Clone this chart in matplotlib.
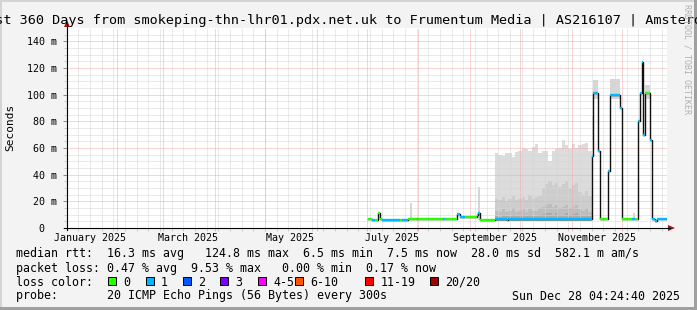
import matplotlib
matplotlib.use("Agg")
import matplotlib.pyplot as plt
import matplotlib.dates as mdates
from matplotlib.patches import Rectangle, Polygon
from matplotlib.lines import Line2D
import numpy as np
import pandas as pd

W, H = 697, 310
MONO = "DejaVu Sans Mono"

# ---- data ----
t_start = "2025-01-02 04:24:40"
t_end = "2025-12-28 04:24:40"

# median rtt steps: each value holds until the next date
med_dates = ["2025-07-02", "2025-07-04", "2025-07-06", "2025-07-08", "2025-07-09",
             "2025-07-10", "2025-07-21", "2025-07-22", "2025-07-26", "2025-07-31",
             "2025-08-01", "2025-08-16", "2025-08-17", "2025-08-24", "2025-08-26",
             "2025-08-29", "2025-09-05", "2025-09-06", "2025-09-07", "2025-09-16",
             "2025-09-23", "2025-09-24", "2025-11-13", "2025-11-14", "2025-11-17",
             "2025-11-18", "2025-11-23", "2025-11-24", "2025-11-30", "2025-12-01",
             "2025-12-07", "2025-12-09", "2025-12-11", "2025-12-12", "2025-12-13",
             "2025-12-14", "2025-12-15", "2025-12-18", "2025-12-19", "2025-12-21",
             "2025-12-22"]
med_end = "2025-12-28"
med_ms = [6.5, 6.0, 6.2, 11.0, 6.5,
          6.0, 6.0, 6.0, 7.0, 7.0,
          7.0, 7.0, 7.0, 10.3, 8.0,
          8.0, 9.5, 11.0, 6.0, 7.0,
          6.0, 7.0, 54, 101, 58,
          7.0, 43, 100, 90, 7.0,
          7.0, 7.0, 80, 101, 124.5,
          70, 101, 66, 7.0, 5.5,
          7.0]
# loss bucket per step (0 = no loss, 1 = 1/20 ...)
med_loss = [0, 1, 0, 0, 0,
            1, 0, 1, 0, 1,
            0, 1, 0, 1, 1,
            0, 0, 1, 0, 1,
            1, 1, 1, 1, 1,
            0, 1, 1, 1, 0,
            1, 0, 1, 1, 1,
            1, 0, 1, 1, 1,
            1]

# smoke (ping spread) sep-nov, one value per 2 days, in ms
smoke_start = "2025-09-16"
smoke_end = "2025-11-13"
smoke_base = 5.5
smoke_max = [56, 55, 54, 56, 56, 53, 57, 58, 60, 59, 58, 61, 63, 56, 58,
             58, 50, 58, 59, 60, 66, 62, 59, 63, 60, 62, 63, 64, 58, 56]
smoke_hi = [22, 21, 23, 20, 22, 24, 21, 22, 23, 21, 25, 22, 23, 24, 30,
            33, 35, 32, 34, 31, 33, 35, 30, 32, 34, 27, 25, 28, 24, 26]
smoke_mid = [13, 12, 14, 12, 13, 15, 12, 13, 14, 12, 14, 13, 13, 15, 16,
             17, 18, 16, 17, 15, 16, 17, 15, 16, 17, 14, 13, 15, 12, 13]
smoke_lo = [9, 8.5, 9.5, 9, 9, 10, 9, 9, 9.5, 9, 10, 9, 9, 10, 10.5,
            11, 11, 10, 11, 10, 10, 11, 10, 10.5, 11, 9.5, 9, 10, 9, 9]

# isolated smoke patches
spike_dates = ["2025-07-27", "2025-09-06", "2025-11-13", "2025-11-14", "2025-11-24",
               "2025-12-08", "2025-12-15"]
spike_days = [1, 1, 1, 3, 6, 1, 3]
spike_bottom = [6, 6, 66, 97, 97, 6, 97]
spike_top = [18.5, 31, 84, 111, 112, 11, 107]

loss_colors = ["#26ff00", "#00b8ff", "#0059ff", "#7e00ff",
               "#ff00ff", "#ff5500", "#ff0000", "#a00000"]
loss_labels = ["0", "1", "2", "3", "4-5", "6-10", "11-19", "20/20"]

yticks = [0, 20, 40, 60, 80, 100, 120, 140]
ytick_labels = ["0  ", "20 m", "40 m", "60 m", "80 m", "100 m", "120 m", "140 m"]
xtick_dates = ["2025-01-16", "2025-03-16", "2025-05-16", "2025-07-16",
               "2025-09-16", "2025-11-16"]
xtick_labels = ["January 2025", "March 2025", "May 2025", "July 2025",
                "September 2025", "November 2025"]

title = "Last 360 Days from smokeping-thn-lhr01.pdx.net.uk to Frumentum Media | AS216107 | Amsterdam"
line_rtt = "median rtt:  16.3 ms avg   124.8 ms max  6.5 ms min  7.5 ms now  28.0 ms sd  582.1 m am/s"
line_loss = "packet loss: 0.47 % avg  9.53 % max   0.00 % min  0.17 % now"
line_probe = "probe:       20 ICMP Echo Pings (56 Bytes) every 300s"
stamp = "Sun Dec 28 04:24:40 2025"

# ---- figure ----
BACK = "#f3f3f3"
fig = plt.figure(figsize=(W / 100, H / 100), dpi=100, facecolor=BACK)


def fx(x):
    return x / W


def fy(y):
    return (H - y) / H


ax = fig.add_axes([fx(67), fy(228), 600 / W, 200 / H])
ax.set_facecolor("white")
for s in ax.spines.values():
    s.set_visible(False)

x0 = mdates.date2num(pd.Timestamp(t_start))
x1 = mdates.date2num(pd.Timestamp(t_end))

# grid (weekly + monthly, 5 ms + 20 ms), dotted like rrdtool
weeks = mdates.date2num(pd.date_range("2025-01-03", "2025-12-27", freq="W-THU"))
months = mdates.date2num(pd.date_range("2025-02-01", "2025-12-27", freq="MS"))
grid_minor = dict(color="#d6d6d6", lw=0.72, ls=(0, (1, 1)), zorder=2)
grid_major = dict(color="#f0aaaa", lw=0.72, ls=(0, (1, 1)), zorder=2)
for w in weeks:
    ax.axvline(w, **grid_minor)
for v in np.arange(5, 150, 5):
    if v % 20:
        ax.axhline(v, **grid_minor)
for m in months:
    ax.axvline(m, **grid_major)
for v in yticks[1:]:
    ax.axhline(v, **grid_major)

# smoke
sx = mdates.date2num(list(pd.date_range(smoke_start, periods=len(smoke_max), freq="2D"))
                     + [pd.Timestamp(smoke_end)])
for top, col in zip([smoke_max, smoke_hi, smoke_mid, smoke_lo],
                    ["#dcdcdc", "#cdcdcd", "#bdbdbd", "#aaaaaa"]):
    ax.fill_between(sx, smoke_base, top + [top[-1]], step="post", color=col, lw=0, zorder=1)

sp = mdates.date2num(pd.to_datetime(spike_dates))
ax.bar(sp, np.array(spike_top) - np.array(spike_bottom), bottom=spike_bottom,
       width=spike_days, align="edge", color="#d6d6d6", lw=0, zorder=1)

# median rtt
st = mdates.date2num(pd.to_datetime(med_dates))
en = mdates.date2num(pd.to_datetime(med_dates[1:] + [med_end]))
ax.step(list(st) + [en[-1]], med_ms + [med_ms[-1]], where="post",
        color="#111111", lw=1.0, zorder=3)
ax.hlines(med_ms, st, en, colors=[loss_colors[i] for i in med_loss], lw=1.7, zorder=4)

# ticks
ax.set_yticks(yticks)
ax.set_yticklabels(ytick_labels, family=MONO, fontsize=7.2)
ax.set_yticks(np.arange(5, 150, 5), minor=True)
ax.tick_params(axis="y", which="major", length=3, width=0.7, color="#888888", pad=4.5)
ax.tick_params(axis="y", which="minor", length=2, width=0.7, color="#c8c8c8")
ax.set_xticks(mdates.date2num(pd.to_datetime(xtick_dates)))
ax.set_xticklabels(xtick_labels, family=MONO, fontsize=7.2)
ax.set_xticks(np.concatenate([weeks, months]), minor=True)
ax.tick_params(axis="x", which="major", length=0, pad=3.5)
ax.tick_params(axis="x", which="minor", length=2, width=0.7, color="#c8c8c8")
ax.set_xlim(x0, x1)
ax.set_ylim(0, 150)

# axes with arrows
fig.add_artist(Line2D([fx(67), fx(67)], [fy(230), fy(24)], color="black", lw=0.8))
fig.add_artist(Line2D([fx(64), fx(670)], [fy(228), fy(228)], color="black", lw=0.8))
arrow_c = "#a01818"
fig.add_artist(Polygon([[fx(64), fy(27)], [fx(70), fy(27)], [fx(67), fy(20)]],
                       closed=True, color=arrow_c, lw=0))
fig.add_artist(Polygon([[fx(668), fy(225)], [fx(668), fy(231)], [fx(675), fy(228)]],
                       closed=True, color=arrow_c, lw=0))

# texts
fig.text(fx(348.5), fy(24), title, family=MONO, fontsize=9.7, ha="center", va="baseline")
fig.text(fx(10), fy(127), "Seconds", family=MONO, fontsize=8, rotation=90,
         ha="center", va="center")
fig.text(fx(687), fy(4), "RRDTOOL / TOBI OETIKER", family=MONO, fontsize=6,
         rotation=270, ha="center", va="top", color="#b0b0b0")

fs = 8.37
fig.text(fx(16), fy(257), line_rtt, family=MONO, fontsize=fs, va="baseline")
fig.text(fx(16), fy(272), line_loss, family=MONO, fontsize=fs, va="baseline")
fig.text(fx(16), fy(285.5), "loss color:", family=MONO, fontsize=fs, va="baseline")
fig.text(fx(16), fy(299.5), line_probe, family=MONO, fontsize=fs, va="baseline")
fig.text(fx(680), fy(299.5), stamp, family=MONO, fontsize=fs, va="baseline", ha="right")

sw_x = [108, 145.5, 183, 220, 257.5, 295, 365, 430]
for xs, col, lab in zip(sw_x, loss_colors, loss_labels):
    fig.add_artist(Rectangle((fx(xs), fy(285)), 8 / W, 8 / H, facecolor=col,
                             edgecolor="black", lw=0.7))
    fig.text(fx(xs + 15.5), fy(285.5), lab, family=MONO, fontsize=fs, va="baseline")

# frame shading
fig.add_artist(Rectangle((0, fy(2)), 1, 2 / H, color="#d4d4d4", lw=0))
fig.add_artist(Rectangle((0, 0), 2 / W, 1, color="#d4d4d4", lw=0))
fig.add_artist(Rectangle((fx(694), 0), 3 / W, 1, color="#a0a0a0", lw=0))
fig.add_artist(Rectangle((0, 0), 1, 3 / H, color="#a0a0a0", lw=0))

fig.savefig("out.png", dpi=100, facecolor=BACK)
